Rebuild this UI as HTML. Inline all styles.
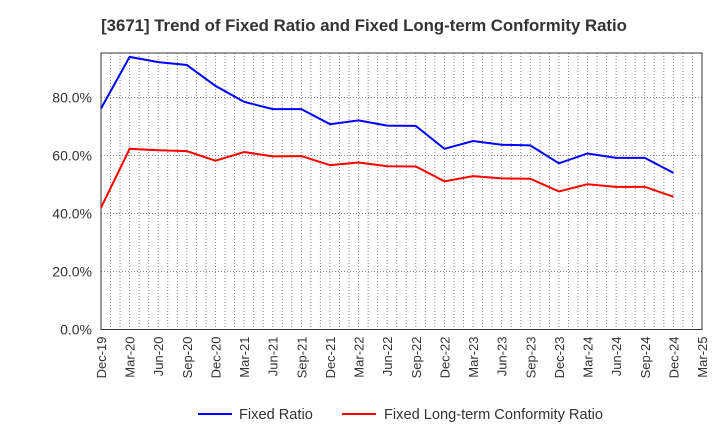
<!DOCTYPE html>
<html><head><meta charset="utf-8"><style>
body{margin:0;background:#fff;font-family:"Liberation Sans",sans-serif;}
svg text{font-family:"Liberation Sans",sans-serif;}
</style></head><body>
<svg id="c" width="720" height="440">
<text x="364" y="31" text-anchor="middle" font-size="16.8" font-weight="bold" fill="#333">[3671]  Trend of Fixed Ratio and Fixed Long-term Conformity Ratio</text>
<g id="grid"></g><g id="axes"></g><g id="series"></g>
<g>
<line x1="198" y1="414" x2="232" y2="414" stroke="#0000ff" stroke-width="2"/>
<text x="239" y="419" font-size="14.6" fill="#333">Fixed Ratio</text>
<line x1="342" y1="414" x2="376" y2="414" stroke="#ff0000" stroke-width="2"/>
<text x="384" y="419" font-size="14.6" fill="#333">Fixed Long-term Conformity Ratio</text>
</g>
</svg>
<script>
const categories=["Dec-19","Mar-20","Jun-20","Sep-20","Dec-20","Mar-21","Jun-21","Sep-21","Dec-21","Mar-22","Jun-22","Sep-22","Dec-22","Mar-23","Jun-23","Sep-23","Dec-23","Mar-24","Jun-24","Sep-24","Dec-24","Mar-25"];
const fixedRatio=[76.2,94.0,92.2,91.2,84.0,78.5,76.0,76.0,70.8,72.1,70.3,70.2,62.3,65.0,63.7,63.5,57.3,60.7,59.2,59.2,54.0];
const conformityRatio=[42.0,62.3,61.8,61.5,58.2,61.2,59.7,59.8,56.7,57.6,56.3,56.2,51.1,52.9,52.1,52.0,47.6,50.1,49.2,49.2,45.8];
const yTicks=[0,20,40,60,80];
const L=101,R=702,T=53,B=329.5;
const NS="http://www.w3.org/2000/svg";
const xs=i=>L+i*(R-L)/(categories.length-1);
const ys=v=>B-v*(B-97.5)/80;
function mk(t,a,p){const e=document.createElementNS(NS,t);for(const k in a)e.setAttribute(k,a[k]);p.appendChild(e);return e;}
const grid=document.getElementById('grid'),axes=document.getElementById('axes'),ser=document.getElementById('series');
for(let m=1;m<(categories.length-1)*3;m++){const x=L+m*(R-L)/((categories.length-1)*3);
const g=mk('line',{x1:x,x2:x,y1:T,y2:B,stroke:'#888','stroke-width':1,'stroke-dasharray':'1,2'},grid);

}
yTicks.forEach(v=>{const y=ys(v);
if(v>0){const g=mk('line',{x1:L,x2:R,y1:y,y2:y,stroke:'#888','stroke-width':1,'stroke-dasharray':'1,2'},grid);

}
const t=mk('text',{x:L-9,y:y+5,'text-anchor':'end','font-size':14,fill:'#333'},axes);t.textContent=v.toFixed(1)+'%';

});
const fr=mk('rect',{x:L,y:T,width:R-L,height:B-T,fill:'none',stroke:'#333','stroke-width':1},axes);


categories.forEach((c,i)=>{const x=xs(i)+5;const t=mk('text',{x:x,y:B+7,'text-anchor':'end','font-size':13,fill:'#333',transform:`rotate(-90 ${x} ${B+7})`},axes);t.textContent=c;

});
function line(d,col,name){const p=mk('polyline',{points:d.map((v,i)=>xs(i)+','+ys(v)).join(' '),fill:'none',stroke:col,'stroke-width':2},ser);

}
line(fixedRatio,'#0000ff','fixed-ratio-line');
line(conformityRatio,'#ff0000','conformity-ratio-line');
</script>
</body></html>
